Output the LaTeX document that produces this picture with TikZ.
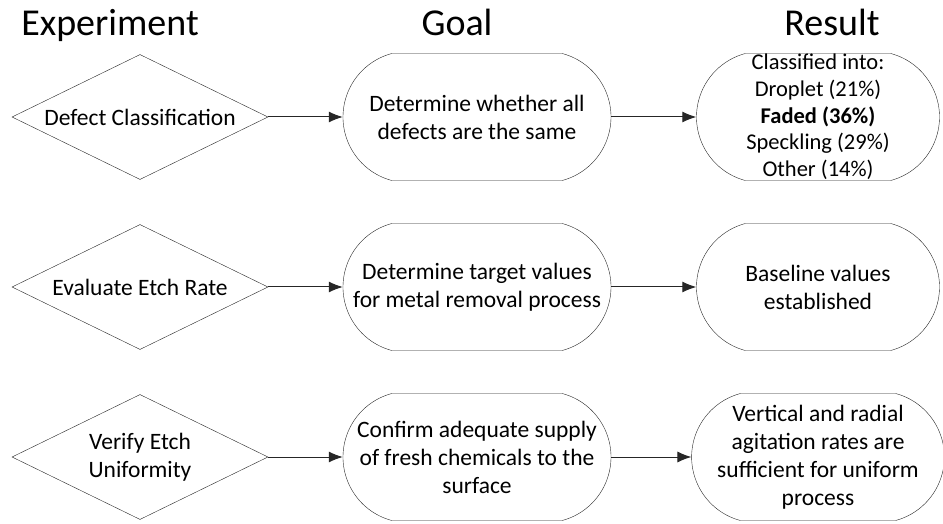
\documentclass[tikz,border=0pt]{standalone}
\usepackage{fontspec}
\setmainfont{Carlito}
\usetikzlibrary{positioning}
\usetikzlibrary{arrows.meta}
\usetikzlibrary{shapes.misc}
\usetikzlibrary{shapes.geometric}

\tikzset{
    headline/.style={font=\fontsize{38}{44}\selectfont, anchor=base},
    expbox/.style={diamond, draw=black!85, aspect=2, inner sep=0pt,
        minimum width=256pt, minimum height=125pt, align=center,
        font=\fontsize{23.5}{28}\selectfont},
    goalbox/.style={rounded rectangle, rounded rectangle arc length=150,
        draw=black!85, inner sep=0pt, minimum width=268pt, minimum height=127pt,
        align=center, font=\fontsize{23.5}{28}\selectfont},
    resbox/.style={goalbox, minimum width=243pt},
    flow/.style={draw=black!85, line width=1pt, -{Latex[length=14pt,width=11pt]}}
}

\begin{document}
\begin{tikzpicture}[x=1pt, y=1pt]
    \useasboundingbox (0,0) rectangle (943,523);

    % column headings
    \node[headline] (hexp) at (110, 487) {Experiment};
    \node[headline] (hgoal) at (457, 487) {Goal};
    \node[headline] (hres) at (832, 487) {Result};

    % row 1
    \node[expbox] (e1) at (140, 406) {Defect Classification};
    \node[goalbox] (g1) at (477, 406) {Determine whether all\\defects are the same};
    \node[resbox, inner ysep=-8pt, font=\fontsize{22.5}{26.7}\selectfont] (r1) at (818, 406)
        {Classified into:\\Droplet (21\%)\\\textbf{Faded (36\%)}\\Speckling (29\%)\\Other (14\%)};

    % row 2
    \node[expbox] (e2) at (140, 236) {Evaluate Etch Rate};
    \node[goalbox] (g2) at (477, 236) {Determine target values\\for metal removal process};
    \node[resbox] (r2) at (818, 236) {Baseline values\\established};

    % row 3
    \node[expbox] (e3) at (140, 66) {Verify Etch\\Uniformity};
    \node[goalbox] (g3) at (477, 66) {Confirm adequate supply\\of fresh chemicals to the\\surface};
    \node[resbox] (r3) at (818, 66) {Vertical and radial\\agitation rates are\\sufficient for uniform\\process};

    % arrows
    \foreach \i in {1,2,3} {
        \draw[flow] (e\i.east) -- (g\i.west);
        \draw[flow] (g\i.east) -- (r\i.west);
    }
\end{tikzpicture}
\end{document}
